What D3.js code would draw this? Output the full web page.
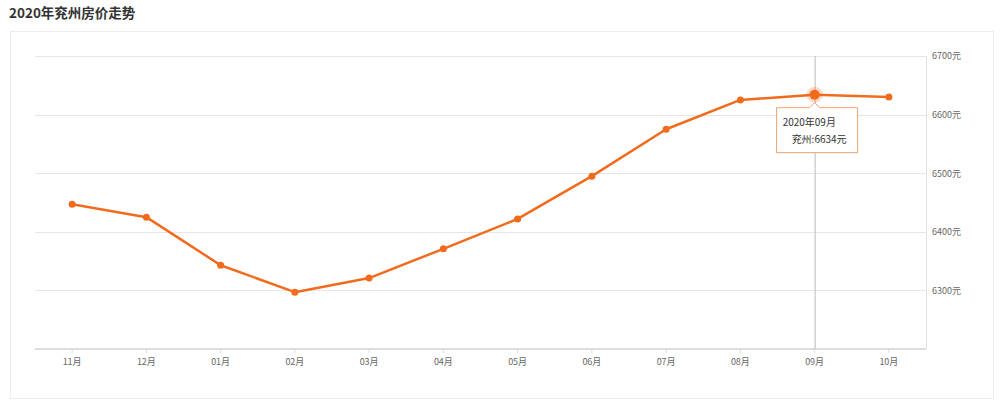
<!DOCTYPE html>
<html><head><meta charset="utf-8">
<script src="https://cdn.jsdelivr.net/npm/d3@7/dist/d3.min.js"></script>
<style>
body{margin:0;background:#fff;font-family:"Open Sans","Noto Sans CJK SC",sans-serif;}
</style></head>
<body><svg id="c" width="1000" height="406"></svg>
<script>
const title = "2020年兖州房价走势";
const months = ["11月","12月","01月","02月","03月","04月","05月","06月","07月","08月","09月","10月"];
const prices = [6447,6425,6343,6297,6321,6371,6422,6495,6575,6625,6634,6630];
const yTicks = [6300,6400,6500,6600,6700];
const highlightIndex = 10;
const tipTitle = "2020年09月";
const tipSeries = "兖州";

const svg = d3.select("#c");
svg.append("text").attr("x",9).attr("y",18).attr("font-size",13.5).attr("font-weight","bold")
  .attr("fill","#333").attr("font-family","'Noto Sans CJK SC',sans-serif").text(title);
svg.append("rect").attr("x",10.5).attr("y",31.5).attr("width",983).attr("height",367)
  .attr("fill","none").attr("stroke","#ececec");

const L=35,R=926,T=56,B=349;
const x = d3.scaleBand().domain(months).range([L,R]);
const y = d3.scaleLinear().domain([6200,6700]).range([B,T]);
const cx = d => x(d)+x.bandwidth()/2;

// grid
svg.append("g").selectAll("line").data(yTicks).join("line")
  .attr("x1",L).attr("x2",R).attr("y1",d=>Math.round(y(d))+0.5).attr("y2",d=>Math.round(y(d))+0.5)
  .attr("stroke","#e6e6e6");
// right axis line
svg.append("line").attr("x1",R+0.5).attr("x2",R+0.5).attr("y1",T).attr("y2",B).attr("stroke","#e0e0e0");
// right axis labels
const ya = d3.axisRight(y).tickValues(yTicks).tickSize(0).tickPadding(6).tickFormat(d=>d+"元");
const gy = svg.append("g").attr("transform",`translate(${R},0)`).call(ya);
gy.select(".domain").remove();
gy.selectAll("text").attr("fill","#666").attr("font-size",9).attr("font-family","'Noto Sans CJK SC',sans-serif");

// bottom axis
const xa = d3.axisBottom(x).tickSize(4).tickPadding(6);
const gx = svg.append("g").attr("transform",`translate(0,${B})`).call(xa);
gx.select(".domain").attr("stroke","#ddd").attr("stroke-width",2).attr("d",`M${L},0H${R}`);
gx.selectAll(".tick line").attr("stroke","#ddd");
gx.selectAll("text").attr("fill","#666").attr("font-size",9).attr("font-family","'Noto Sans CJK SC',sans-serif");

// crosshair
const hx = cx(months[highlightIndex]);
svg.append("line").attr("x1",hx+0.5).attr("x2",hx+0.5).attr("y1",T).attr("y2",B).attr("stroke","#bbb");

// line
const line = d3.line().x((d,i)=>cx(months[i])).y(d=>y(d));
svg.append("path").datum(prices).attr("d",line).attr("fill","none")
  .attr("stroke","#f26b1d").attr("stroke-width",2.5).attr("stroke-linejoin","round");
svg.append("g").selectAll("circle").data(prices).join("circle")
  .attr("cx",(d,i)=>cx(months[i])).attr("cy",d=>y(d)).attr("r",3.5).attr("fill","#f26b1d");
// highlight
const hy = y(prices[highlightIndex]);
svg.append("circle").attr("cx",hx).attr("cy",hy).attr("r",8).attr("fill","#f26b1d").attr("opacity",0.25);
svg.append("circle").attr("cx",hx).attr("cy",hy).attr("r",5).attr("fill","#f26b1d");

// tooltip
const tw=81, th=45, tx=hx-38, ty=hy+13;
const tip = svg.append("g");
tip.append("path").attr("d",`M${tx},${ty} H${hx-5} L${hx},${ty-5} L${hx+5},${ty} H${tx+tw} V${ty+th} H${tx} Z`)
  .attr("fill","#fff").attr("stroke","#f0a070").attr("stroke-width",1).attr("stroke-linejoin","round");
tip.append("text").attr("x",tx+6).attr("y",ty+18).attr("font-size",10).attr("fill","#333")
  .attr("font-family","'Noto Sans CJK SC',sans-serif").text(tipTitle);
tip.append("text").attr("x",tx+15).attr("y",ty+35).attr("font-size",10).attr("fill","#333")
  .attr("font-family","'Noto Sans CJK SC',sans-serif").text(tipSeries+":"+prices[highlightIndex]+"元");
</script></body></html>
